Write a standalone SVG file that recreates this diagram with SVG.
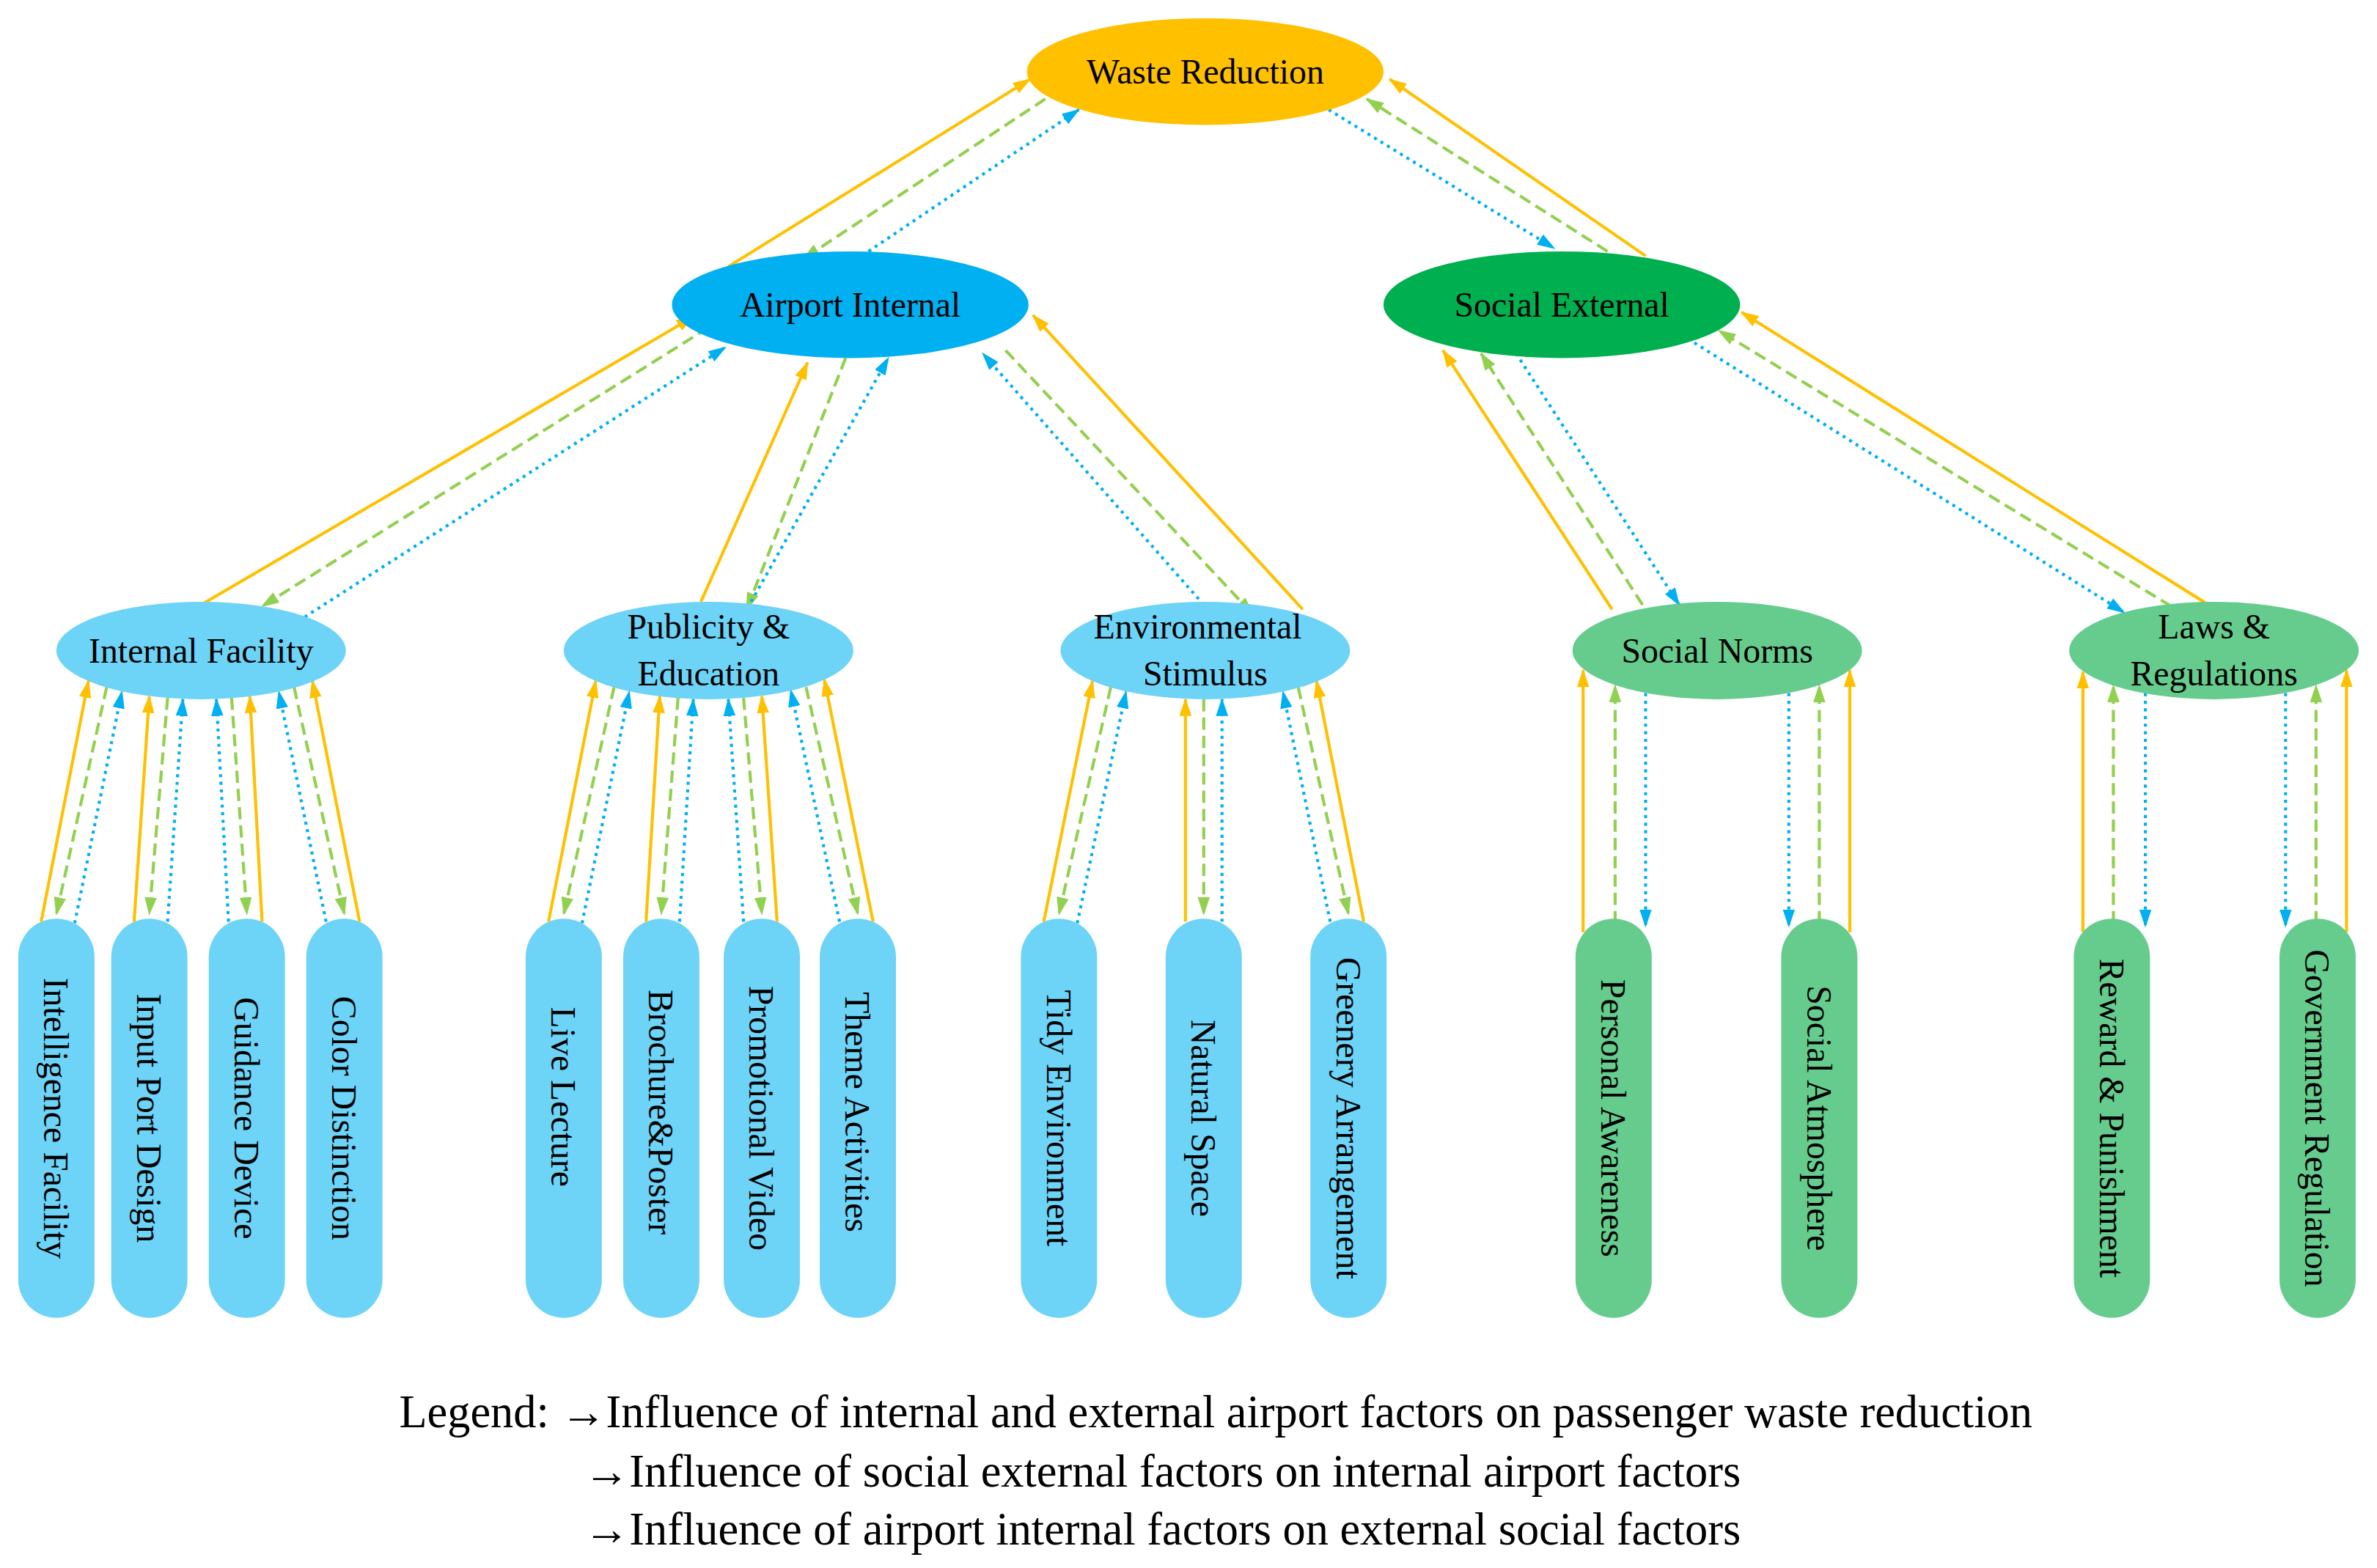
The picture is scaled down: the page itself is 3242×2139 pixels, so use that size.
<svg xmlns="http://www.w3.org/2000/svg" width="3242" height="2139" viewBox="0 0 3242 2139">
<defs>
<marker id="mo" markerWidth="6" markerHeight="4" refX="5.5" refY="2" orient="auto"><path d="M0,0L6,2L0,4z" fill="#FFC000"/></marker>
<marker id="mg" markerWidth="6" markerHeight="4" refX="5.5" refY="2" orient="auto"><path d="M0,0L6,2L0,4z" fill="#92D050"/></marker>
<marker id="mb" markerWidth="6" markerHeight="4" refX="5.5" refY="2" orient="auto"><path d="M0,0L6,2L0,4z" fill="#00B0F0"/></marker>
<style>
.o{stroke:#FFC000;stroke-width:2;fill:none;marker-end:url(#mo)}
.g{stroke:#92D050;stroke-width:2;fill:none;stroke-dasharray:8,4;marker-end:url(#mg)}
.b{stroke:#00B0F0;stroke-width:2;fill:none;stroke-dasharray:2,3;marker-end:url(#mb)}
text{font-family:"Liberation Serif","Times New Roman",serif;font-size:23px;fill:#000;text-anchor:middle}
.lb{fill:#6DD3F7}.lg{fill:#66CC8E}
.lg2{font-size:30px;text-anchor:start}
</style>
</defs>
<rect width="3242" height="2139" fill="#fff"/>
<g transform="scale(2.0782)">
<g id="connectors">
<line class="o" x1="478" y1="175" x2="676" y2="52"/>
<line class="g" x1="686" y1="65" x2="527" y2="170"/>
<line class="b" x1="570" y1="165" x2="708" y2="72"/>
<line class="b" x1="872" y1="72" x2="1020" y2="163"/>
<line class="g" x1="1055" y1="165" x2="897" y2="65"/>
<line class="o" x1="1080" y1="168" x2="912" y2="52"/>
<line class="o" x1="132" y1="397" x2="455" y2="208"/>
<line class="g" x1="465" y1="215" x2="172" y2="398"/>
<line class="b" x1="200" y1="405" x2="476" y2="228"/>
<line class="o" x1="460" y1="395" x2="530" y2="238"/>
<line class="g" x1="555" y1="235" x2="490" y2="400"/>
<line class="b" x1="493" y1="395" x2="583" y2="235"/>
<line class="b" x1="790" y1="397" x2="645" y2="232"/>
<line class="g" x1="660" y1="230" x2="822" y2="403"/>
<line class="o" x1="855" y1="400" x2="678" y2="207"/>
<line class="o" x1="1058" y1="400" x2="947" y2="230"/>
<line class="g" x1="1078" y1="397" x2="972" y2="232"/>
<line class="b" x1="995" y1="232" x2="1102" y2="397"/>
<line class="b" x1="1112" y1="225" x2="1394" y2="402"/>
<line class="g" x1="1425" y1="398" x2="1128" y2="217"/>
<line class="o" x1="1451" y1="398" x2="1143" y2="205"/>
<!-- IF leaves -->
<line class="o" x1="27" y1="605" x2="58" y2="447"/>
<line class="g" x1="70" y1="451" x2="37" y2="600"/>
<line class="b" x1="49" y1="606" x2="80" y2="454"/>
<line class="o" x1="88" y1="605" x2="98" y2="457"/>
<line class="g" x1="110" y1="458" x2="98" y2="600"/>
<line class="b" x1="110" y1="605" x2="120" y2="459"/>
<line class="o" x1="172" y1="605" x2="164" y2="457"/>
<line class="g" x1="152" y1="458" x2="162" y2="600"/>
<line class="b" x1="150" y1="605" x2="142" y2="459"/>
<line class="o" x1="236" y1="605" x2="205" y2="447"/>
<line class="g" x1="193" y1="451" x2="226" y2="600"/>
<line class="b" x1="214" y1="605" x2="183" y2="454"/>
<!-- PE leaves -->
<line class="o" x1="360" y1="605" x2="391" y2="447"/>
<line class="g" x1="403" y1="451" x2="370" y2="600"/>
<line class="b" x1="382" y1="606" x2="413" y2="454"/>
<line class="o" x1="424" y1="605" x2="433" y2="457"/>
<line class="g" x1="445" y1="458" x2="434" y2="600"/>
<line class="b" x1="446" y1="605" x2="455" y2="459"/>
<line class="o" x1="510" y1="605" x2="500" y2="457"/>
<line class="g" x1="488" y1="458" x2="500" y2="600"/>
<line class="b" x1="488" y1="605" x2="478" y2="459"/>
<line class="o" x1="573" y1="605" x2="541" y2="446"/>
<line class="g" x1="529" y1="451" x2="563" y2="600"/>
<line class="b" x1="551" y1="605" x2="519" y2="453"/>
<!-- ES leaves -->
<line class="o" x1="685" y1="605" x2="717" y2="447"/>
<line class="g" x1="729" y1="451" x2="695" y2="600"/>
<line class="b" x1="707" y1="606" x2="739" y2="454"/>
<line class="o" x1="778" y1="605" x2="778" y2="459"/>
<line class="g" x1="790" y1="459" x2="790" y2="600"/>
<line class="b" x1="802" y1="605" x2="802" y2="459"/>
<line class="o" x1="895" y1="605" x2="864" y2="447"/>
<line class="g" x1="852" y1="451" x2="885" y2="600"/>
<line class="b" x1="873" y1="605" x2="842" y2="454"/>
<!-- SN leaves -->
<line class="o" x1="1039" y1="612" x2="1039" y2="440"/>
<line class="g" x1="1060" y1="606" x2="1060" y2="450"/>
<line class="b" x1="1080" y1="455" x2="1080" y2="608"/>
<line class="b" x1="1174" y1="455" x2="1174" y2="608"/>
<line class="g" x1="1194" y1="606" x2="1194" y2="450"/>
<line class="o" x1="1214" y1="612" x2="1214" y2="440"/>
<!-- LR leaves -->
<line class="o" x1="1367" y1="612" x2="1367" y2="441"/>
<line class="g" x1="1387" y1="606" x2="1387" y2="450"/>
<line class="b" x1="1408" y1="455" x2="1408" y2="608"/>
<line class="b" x1="1500" y1="455" x2="1500" y2="608"/>
<line class="g" x1="1520" y1="606" x2="1520" y2="450"/>
<line class="o" x1="1540" y1="612" x2="1540" y2="440"/>
</g>
<g id="waste"><ellipse cx="791" cy="47" rx="117" ry="35" fill="#FFC000"/><text x="791" y="55">Waste Reduction</text></g>
<g id="airport"><ellipse cx="558" cy="200" rx="117" ry="35" fill="#00B0F0"/><text x="558" y="208">Airport Internal</text></g>
<g id="social"><ellipse cx="1025" cy="200" rx="117" ry="35" fill="#00B050"/><text x="1025" y="208">Social External</text></g>
<g id="ifac"><ellipse class="lb" cx="132" cy="427" rx="95" ry="32"/><text x="132" y="435">Internal Facility</text></g>
<g id="pub"><ellipse class="lb" cx="465" cy="427" rx="95" ry="32"/><text x="465" y="419">Publicity &amp;</text><text x="465" y="450">Education</text></g>
<g id="env"><ellipse class="lb" cx="791" cy="427" rx="95" ry="32"/><text x="786" y="419">Environmental</text><text x="791" y="450">Stimulus</text></g>
<g id="norms"><ellipse class="lg" cx="1127" cy="427" rx="95" ry="32"/><text x="1127" y="435">Social Norms</text></g>
<g id="laws"><ellipse class="lg" cx="1453" cy="427" rx="95" ry="32"/><text x="1453" y="419">Laws &amp;</text><text x="1453" y="450">Regulations</text></g>
<g id="leaf1"><rect class="lb" x="12" y="603" width="50" height="262" rx="25"/><text transform="translate(37,734) rotate(90)" y="8">Intelligence Facility</text></g>
<g id="leaf2"><rect class="lb" x="73" y="603" width="50" height="262" rx="25"/><text transform="translate(98,734) rotate(90)" y="8">Input Port Design</text></g>
<g id="leaf3"><rect class="lb" x="137" y="603" width="50" height="262" rx="25"/><text transform="translate(162,734) rotate(90)" y="8">Guidance Device</text></g>
<g id="leaf4"><rect class="lb" x="201" y="603" width="50" height="262" rx="25"/><text transform="translate(226,734) rotate(90)" y="8">Color Distinction</text></g>
<g id="leaf5"><rect class="lb" x="345" y="603" width="50" height="262" rx="25"/><text transform="translate(370,720) rotate(90)" y="8">Live Lecture</text></g>
<g id="leaf6"><rect class="lb" x="409" y="603" width="50" height="262" rx="25"/><text transform="translate(434,730) rotate(90)" y="8">Brochure&amp;Poster</text></g>
<g id="leaf7"><rect class="lb" x="475" y="603" width="50" height="262" rx="25"/><text transform="translate(500,734) rotate(90)" y="8">Promotional Video</text></g>
<g id="leaf8"><rect class="lb" x="538" y="603" width="50" height="262" rx="25"/><text transform="translate(563,730) rotate(90)" y="8">Theme Activities</text></g>
<g id="leaf9"><rect class="lb" x="670" y="603" width="50" height="262" rx="25"/><text transform="translate(695,734) rotate(90)" y="8">Tidy Environment</text></g>
<g id="leaf10"><rect class="lb" x="765" y="603" width="50" height="262" rx="25"/><text transform="translate(790,734) rotate(90)" y="8">Natural Space</text></g>
<g id="leaf11"><rect class="lb" x="860" y="603" width="50" height="262" rx="25"/><text transform="translate(885,734) rotate(90)" y="8">Greenery Arrangement</text></g>
<g id="leaf12"><rect class="lg" x="1034" y="603" width="50" height="262" rx="25"/><text transform="translate(1059,734) rotate(90)" y="8">Personal Awareness</text></g>
<g id="leaf13"><rect class="lg" x="1169" y="603" width="50" height="262" rx="25"/><text transform="translate(1194,734) rotate(90)" y="8">Social Atmosphere</text></g>
<g id="leaf14"><rect class="lg" x="1361" y="603" width="50" height="262" rx="25"/><text transform="translate(1386,734) rotate(90)" y="8">Reward &amp; Punishment</text></g>
<g id="leaf15"><rect class="lg" x="1496" y="603" width="50" height="262" rx="25"/><text transform="translate(1521,734) rotate(90)" y="8">Government Regulation</text></g>
<g id="legend">
<text class="lg2" x="262" y="937">Legend: →Influence of internal and external airport factors on passenger waste reduction</text>
<text class="lg2" x="383" y="976">→Influence of social external factors on internal airport factors</text>
<text class="lg2" x="383" y="1014">→Influence of airport internal factors on external social factors</text>
</g>
</g>
</svg>
